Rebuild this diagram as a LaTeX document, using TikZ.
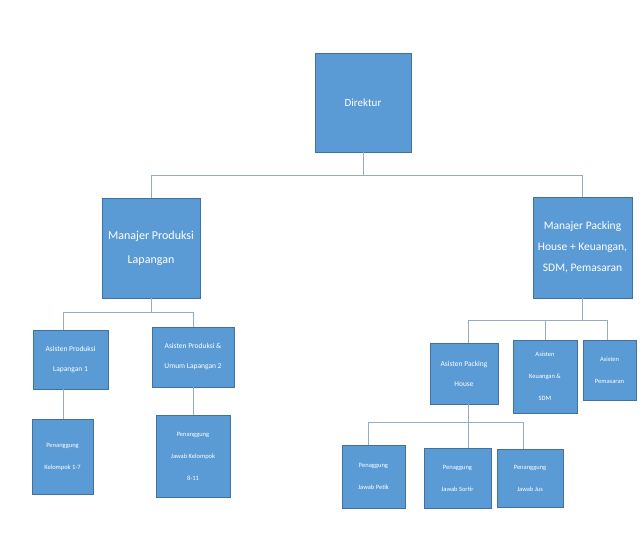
\documentclass[tikz,border=0pt]{standalone}
\usepackage{fontspec}
\setmainfont{Carlito}
\definecolor{boxblue}{RGB}{91,155,213}
\definecolor{boxedge}{RGB}{65,113,156}
\definecolor{linecol}{RGB}{150,172,198}
\begin{document}
\begin{tikzpicture}[x=1pt,y=-1pt,
  orgbox/.style={draw=boxedge,line width=0.6pt,fill=boxblue,text=white,align=center,inner sep=1pt},
  big/.style={font=\fontsize{12pt}{24pt}\selectfont},
  mid/.style={font=\fontsize{7.5pt}{20pt}\selectfont},
  small/.style={font=\fontsize{6.5pt}{22pt}\selectfont},
  conn/.style={draw=linecol,line width=1pt}]
\useasboundingbox[fill=white] (0,0) rectangle (644,544);
% nodes
\node[orgbox,minimum width=96pt,minimum height=99pt,font=\fontsize{11pt}{13pt}\selectfont] (dir) at (363,102.5) {Direktur};
\node[orgbox,big,minimum width=98pt,minimum height=100pt] (mp) at (151,248) {Manajer Produksi\\Lapangan};
\node[orgbox,minimum width=99pt,minimum height=101pt,font=\fontsize{11.5pt}{21pt}\selectfont] (mpk) at (582.5,247.5) {Manajer Packing\\House + Keuangan,\\SDM, Pemasaran};
\node[orgbox,mid,minimum width=75pt,minimum height=59pt] (a1) at (70.5,359.5) {Asisten Produksi\\Lapangan 1};
\node[orgbox,mid,minimum width=82pt,minimum height=60pt] (a2) at (193,357) {Asisten Produksi \&\\Umum Lapangan 2};
\node[orgbox,small,minimum width=61pt,minimum height=75pt] (p1) at (62.5,456.5) {Penanggung\\Kelompok 1-7};
\node[orgbox,small,minimum width=74pt,minimum height=82pt] (p2) at (193,456) {Penanggung\\Jawab Kelompok\\8-11};
\node[orgbox,mid,minimum width=68pt,minimum height=61pt] (apk) at (464,373.5) {Asisten Packing\\House};
\node[orgbox,small,minimum width=64pt,minimum height=73pt] (ak) at (545,376.5) {Asisten\\Keuangan \&\\SDM};
\node[orgbox,small,minimum width=53pt,minimum height=60pt] (ap) at (609.5,370) {Asisten\\Pemasaran};
\node[orgbox,small,minimum width=63pt,minimum height=63pt] (pp) at (373.5,476.5) {Penaggung\\Jawab Petik};
\node[orgbox,small,minimum width=67pt,minimum height=60pt] (ps) at (457.5,478) {Penaggung\\Jawab Sortir};
\node[orgbox,small,minimum width=66pt,minimum height=58pt] (pj) at (530,478) {Penanggung\\Jawab Jus};
% attachment points
\coordinate (a1n) at ([xshift=-7.5pt]a1.north);
\coordinate (a1s) at ([xshift=-7.5pt]a1.south);
\coordinate (apks) at ([xshift=4pt]apk.south);
\coordinate (apkn) at ([xshift=4pt]apk.north);
\coordinate (apn) at ([xshift=-2.5pt]ap.north);
\coordinate (ppn) at ([xshift=-5.5pt]pp.north);
\coordinate (psn) at ([xshift=10.5pt]ps.north);
\coordinate (pjn) at ([xshift=-7pt]pj.north);
% bus coordinates
\coordinate (b1) at (0,175);
\coordinate (b2) at (0,312);
\coordinate (b3) at (0,320);
\coordinate (b4) at (0,422);
% connectors
\draw[conn] (dir.south) -- (dir.south |- b1) -| (mp.north);
\draw[conn] (dir.south |- b1) -| (mpk.north);
\draw[conn] (mp.south) -- (mp.south |- b2) -| (a1n);
\draw[conn] (mp.south |- b2) -| (a2.north);
\draw[conn] (a1s) -- (a1s |- p1.north);
\draw[conn] (a2.south) -- (p2.north);
\draw[conn] (mpk.south) -- (mpk.south |- b3) -| (apkn);
\draw[conn] (mpk.south |- b3) -| (ak.north);
\draw[conn] (mpk.south |- b3) -| (apn);
\draw[conn] (apks) -- (apks |- b4) -| (ppn);
\draw[conn] (apks |- b4) -- (psn);
\draw[conn] (apks |- b4) -| (pjn);
\end{tikzpicture}
\end{document}
